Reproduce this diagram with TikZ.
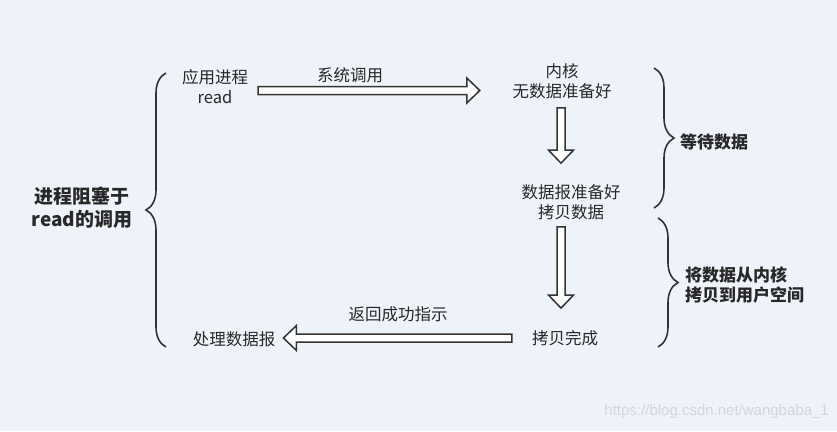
\documentclass[tikz,border=0pt]{standalone}
\usepackage{fontspec}
\setmainfont{Noto Sans CJK SC}
\newfontfamily\urlfont{Liberation Sans}
\usepackage{tikz}
\usetikzlibrary{calc,positioning,decorations.pathreplacing}
\definecolor{bg}{RGB}{238,243,250}
\definecolor{ink}{RGB}{51,51,51}
\definecolor{txt}{RGB}{40,40,40}
\definecolor{mark}{RGB}{210,215,223}
% hollow block arrow from #1 to #2
\newcommand{\hollowarrow}[2]{%
	\coordinate (ha) at (#1);
	\coordinate (hb) at (#2);
	\coordinate (hp) at ($(hb)!13pt!(ha)$);
	\draw[blockarrow] ($(ha)!4pt!90:(hb)$) -- ($(hp)!4pt!-90:(ha)$) -- ($(hp)!12.5pt!-90:(ha)$) -- (hb)
		-- ($(hp)!12.5pt!90:(ha)$) -- ($(hp)!4pt!90:(ha)$) -- ($(ha)!4pt!-90:(hb)$) -- cycle;
}
\begin{document}
\begin{tikzpicture}[x=1pt,y=-1pt,% one unit is one pixel of the screenshot, y runs down
			every node/.style={
				align=center,		% so that "\\" breaks the line
				inner sep=0pt,		% anchors sit on the text itself
				text=txt,
				font=\fontsize{16.5}{20}\selectfont
			},
			title/.style={font=\fontsize{17}{20.5}\selectfont\bfseries},
			bigtitle/.style={font=\fontsize{19}{23}\selectfont\bfseries},
			blockarrow/.style={draw=ink,line width=1.5pt,fill=white,line join=miter},
			curly/.style={draw=ink,line width=1.6pt,decorate,decoration={brace,amplitude=20pt}}
		]
		\fill[bg] (0,0) rectangle (837,431);
		\useasboundingbox (0,0) rectangle (837,431);
		\node(R1) at (215,87){应用进程\\read};
		\node(R2) at (562,81){内核\\无数据准备好};
		\node(R3) at (571,202){数据报准备好\\拷贝数据};
		\node(R4) at (565,338){拷贝完成};
		\node(R5) at (234,339){处理数据报};
		\node(L1) at (350,75){系统调用};
		\node(L2) at (398,314){返回成功指示};
		\node[bigtitle](T1) at (82,208){进程阻塞于\\read的调用};
		\node[title](T2) at (714,142){等待数据};
		\node[title,align=left,anchor=west](T3) at (685,285){将数据从内核\\拷贝到用户空间};
		\node[font=\urlfont\fontsize{15}{15}\selectfont,text=mark,anchor=east](W) at (829,412){https://blog.csdn.net/wangbaba\_1};
		% arrows
		\hollowarrow{$(R1.east)+(10,3.5)$}{$(R2.west)+(-32.5,9.5)$}
		\hollowarrow{$(R2.south)+(-1,9)$}{$(R2.south |- R3.north)+(-1,-21)$}
		\hollowarrow{$(R3.south)+(-10,7)$}{$(R3.south |- R4.north)+(-10,-22)$}
		\hollowarrow{$(R4.west)+(-20,0)$}{$(R5.east |- R4.west)+(8,0)$}
		% braces
		\draw[curly] (166,347) -- (166,73);
		\draw[curly] (654,68) -- (654,208);
		\draw[curly] (658,218) -- (658,347);
	\end{tikzpicture}
\end{document}
